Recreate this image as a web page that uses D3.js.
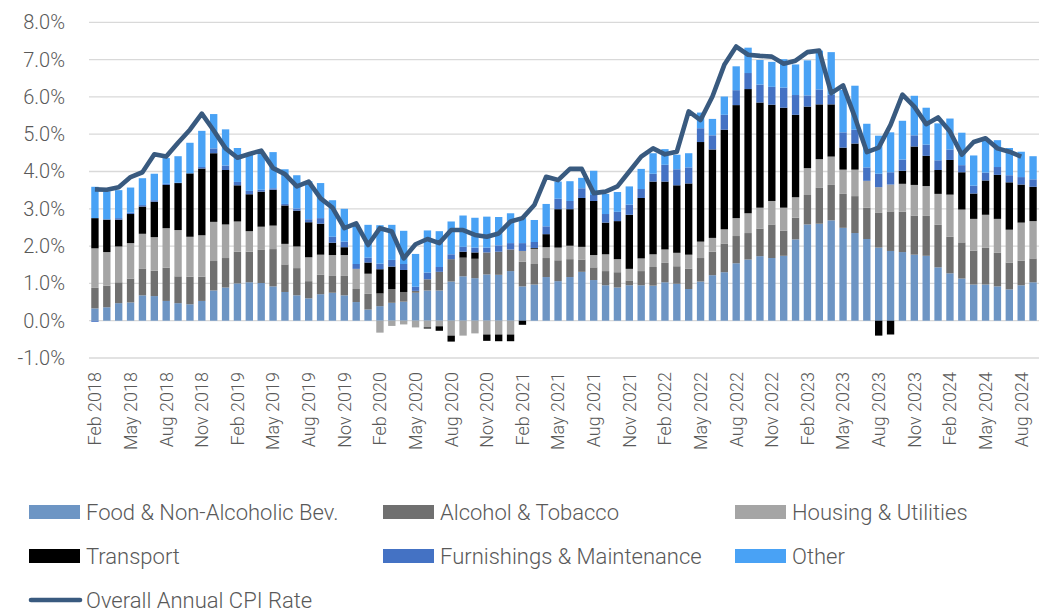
<!DOCTYPE html>
<html>
<head>
<meta charset="utf-8">
<script src="https://cdn.jsdelivr.net/npm/d3@7"></script>
<style>
  body { margin: 0; background: #fff; }
  text { font-family: "Roboto", sans-serif; font-weight: 300; fill: #595959; }
</style>
</head>
<body>
<div class="cpiChart"></div>
<script>
const months = [
  'Feb 2018','Mar 2018','Apr 2018','May 2018','Jun 2018','Jul 2018','Aug 2018','Sep 2018','Oct 2018','Nov 2018','Dec 2018',
  'Jan 2019','Feb 2019','Mar 2019','Apr 2019','May 2019','Jun 2019','Jul 2019','Aug 2019','Sep 2019','Oct 2019','Nov 2019','Dec 2019',
  'Jan 2020','Feb 2020','Mar 2020','Apr 2020','May 2020','Jun 2020','Jul 2020','Aug 2020','Sep 2020','Oct 2020','Nov 2020','Dec 2020',
  'Jan 2021','Feb 2021','Mar 2021','Apr 2021','May 2021','Jun 2021','Jul 2021','Aug 2021','Sep 2021','Oct 2021','Nov 2021','Dec 2021',
  'Jan 2022','Feb 2022','Mar 2022','Apr 2022','May 2022','Jun 2022','Jul 2022','Aug 2022','Sep 2022','Oct 2022','Nov 2022','Dec 2022',
  'Jan 2023','Feb 2023','Mar 2023','Apr 2023','May 2023','Jun 2023','Jul 2023','Aug 2023','Sep 2023','Oct 2023','Nov 2023','Dec 2023',
  'Jan 2024','Feb 2024','Mar 2024','Apr 2024','May 2024','Jun 2024','Jul 2024','Aug 2024','Sep 2024'
];

const food = [
  0.33,0.36,0.47,0.49,0.68,0.66,0.53,0.47,0.44,0.53,
  0.81,0.89,1.00,1.03,1.01,0.92,0.77,0.68,0.60,0.71,
  0.75,0.68,0.50,0.30,0.39,0.48,0.51,0.75,0.81,0.81,
  1.05,1.19,1.14,1.24,1.23,1.33,0.92,0.97,1.17,1.06,
  1.17,1.31,1.09,0.95,0.89,0.95,0.95,0.94,1.03,0.99,
  0.85,1.05,1.22,1.30,1.54,1.64,1.73,1.68,1.74,2.18,
  2.58,2.60,2.69,2.49,2.35,2.19,1.96,1.87,1.84,1.77,
  1.74,1.43,1.27,1.13,0.97,0.97,0.92,0.84,0.95,1.03
];
const alcohol = [
  0.55,0.58,0.56,0.64,0.72,0.68,0.89,0.72,0.74,0.65,
  0.79,0.79,0.85,0.82,0.90,1.00,0.74,0.73,0.46,0.52,
  0.45,0.52,0.35,0.42,0.34,0.37,0.26,0.05,0.30,0.50,
  0.60,0.50,0.52,0.59,0.62,0.58,0.66,0.55,0.51,0.56,
  0.48,0.33,0.34,0.38,0.41,0.13,0.38,0.50,0.52,0.47,
  0.54,0.63,0.63,0.77,0.73,0.71,0.74,0.90,0.67,0.58,
  0.79,0.96,0.95,0.91,0.99,0.84,0.93,1.06,1.08,1.05,
  1.07,1.14,0.98,0.97,0.91,0.99,0.90,0.72,0.66,0.64
];
const housing = [
  1.06,0.90,0.96,0.95,0.93,0.90,1.06,1.24,1.07,1.11,
  1.05,0.90,0.81,0.55,0.61,0.63,0.55,0.58,0.64,0.54,
  0.56,0.56,0.54,0.54,-0.32,-0.14,-0.10,-0.18,-0.18,-0.15,
  -0.40,-0.40,-0.34,-0.37,-0.37,-0.37,0.29,0.41,0.29,0.34,
  0.36,0.34,0.33,0.45,0.35,0.31,0.34,0.34,0.36,0.36,
  0.38,0.44,0.37,0.38,0.48,0.53,0.56,0.63,0.62,0.55,
  0.72,0.77,0.76,0.65,0.71,0.72,0.69,0.72,0.75,0.82,
  0.80,0.83,1.13,0.88,0.85,0.88,0.91,0.88,1.02,1.00
];
const transport = [
  0.81,0.87,0.72,0.78,0.73,0.95,1.16,1.26,1.70,1.79,
  1.84,1.46,0.97,0.99,0.94,0.96,1.03,0.96,0.94,0.83,
  0.33,0.21,0.00,0.30,0.65,0.60,0.59,0.00,-0.03,-0.12,
  -0.16,0.16,0.17,-0.17,-0.18,-0.18,-0.11,0.02,0.35,1.03,
  0.98,1.31,1.45,0.85,1.02,1.45,1.62,1.95,1.82,1.81,
  1.91,2.67,2.37,2.67,3.03,3.33,2.82,2.58,2.68,2.21,
  1.65,1.47,1.40,0.59,0.70,0.00,-0.40,-0.37,0.35,1.03,
  0.81,0.64,0.93,1.00,0.68,0.92,1.18,1.27,1.02,0.92
];
const furnishings = [
  -0.03,0.01,0.04,0.04,0.04,0.04,0.03,0.01,0.00,0.04,
  0.13,0.12,0.09,0.09,0.05,0.04,0.04,0.06,0.08,0.15,
  0.16,0.15,0.13,0.13,0.15,0.18,0.16,0.11,0.18,0.13,
  0.13,0.13,0.13,0.13,0.17,0.17,0.21,0.16,0.21,0.28,
  0.22,0.26,0.16,0.23,0.25,0.27,0.24,0.21,0.45,0.43,
  0.43,0.37,0.38,0.40,0.40,0.43,0.48,0.48,0.54,0.53,
  0.30,0.40,0.26,0.41,0.37,0.36,0.36,0.33,0.30,0.30,
  0.30,0.26,0.28,0.19,0.21,0.21,0.21,0.19,0.20,0.20
];
const other = [
  0.84,0.75,0.75,0.67,0.72,0.71,0.69,0.71,0.82,0.97,
  0.92,0.97,0.91,1.01,1.00,0.97,0.93,0.89,1.02,0.94,
  0.98,0.88,1.05,0.88,1.03,0.94,0.89,0.88,1.13,0.96,
  0.88,0.84,0.80,0.83,0.76,0.80,0.67,0.59,0.60,0.46,
  0.53,0.28,0.65,0.54,0.53,0.49,0.54,0.55,0.42,0.39,
  0.38,0.42,0.44,0.49,0.64,0.68,0.66,0.67,0.76,0.82,
  0.94,1.04,1.14,1.14,1.18,1.17,1.02,1.07,1.04,1.06,
  0.99,0.99,0.83,0.87,0.81,0.89,0.72,0.73,0.68,0.62
];
const cpi = [
  3.52,3.51,3.58,3.85,3.98,4.46,4.40,4.77,5.12,5.55,
  5.10,4.62,4.37,4.47,4.56,4.09,3.93,3.60,3.73,3.28,
  3.03,2.48,2.61,2.03,2.48,2.39,1.67,2.05,2.19,2.08,
  2.43,2.43,2.30,2.25,2.34,2.66,2.75,3.10,3.86,3.77,
  4.07,4.07,3.42,3.46,3.60,4.00,4.40,4.62,4.46,4.53,
  5.61,5.38,6.01,6.86,7.35,7.13,7.10,7.08,6.89,6.97,
  7.20,7.24,6.10,6.31,5.45,4.52,4.64,5.25,6.06,5.74,
  5.27,5.45,5.07,4.45,4.79,4.89,4.62,4.53,4.40,null
];

const seriesNames = ['Food & Non-Alcoholic Bev.', 'Alcohol & Tobacco', 'Housing & Utilities',
                     'Transport', 'Furnishings & Maintenance', 'Other'];
const lineName = 'Overall Annual CPI Rate';
const yTicks = [-1, 0, 1, 2, 3, 4, 5, 6, 7, 8];

const colors = ['#6d95c4', '#707070', '#a5a5a5', '#000000', '#4472c4', '#49a2f5'];
const lineColor = '#395a7f';

const W = 1046, H = 613;
const margin = ({top: 22, right: 7, bottom: 255, left: 89});

const svg = d3.select('.cpiChart')
              .append('svg')
              .attr('width', W)
              .attr('height', H);

// build one row per month for the stack
const table = months.map((m, i) => ({
  month: m,
  s0: food[i], s1: alcohol[i], s2: housing[i],
  s3: transport[i], s4: furnishings[i], s5: other[i]
}));
const keys = ['s0', 's1', 's2', 's3', 's4', 's5'];

const stacked = d3.stack()
                  .keys(keys)
                  .offset(d3.stackOffsetDiverging)(table);

const xScale = d3.scaleBand()
                 .domain(months)
                 .range([margin.left, W - margin.right])
                 .paddingInner(0.38)
                 .paddingOuter(0.19);

const yScale = d3.scaleLinear()
                 .domain([-1, 8])
                 .range([358.0, 22.3]);

// gridlines
svg.append('g')
   .selectAll('line')
   .data(yTicks)
   .enter()
   .append('line')
   .attr('x1', margin.left)
   .attr('x2', W - margin.right)
   .attr('y1', d => yScale(d))
   .attr('y2', d => yScale(d))
   .attr('stroke', '#d9d9d9')
   .attr('stroke-width', 1.3);

// y axis labels
const yAxis = d3.axisLeft(yScale)
                .tickValues(yTicks)
                .tickSize(0)
                .tickPadding(24)
                .tickFormat(d => d.toFixed(1) + '%');
const yG = svg.append('g')
   .attr('transform', `translate(${margin.left},0)`)
   .call(yAxis);
yG.select('.domain').remove();
yG.selectAll('text')
  .style('font-size', '20px')
  .style('font-family', 'Roboto, sans-serif')
  .style('font-weight', 300)
  .attr('fill', '#595959');

// bars
svg.append('g')
   .selectAll('g')
   .data(stacked)
   .enter()
   .append('g')
   .attr('fill', (d, i) => colors[i])
   .selectAll('rect')
   .data(d => d)
   .enter()
   .append('rect')
   .attr('x', d => xScale(d.data.month))
   .attr('width', xScale.bandwidth())
   .attr('y', d => yScale(Math.max(d[0], d[1])))
   .attr('height', d => Math.abs(yScale(d[0]) - yScale(d[1])));

// cpi line
const line = d3.line()
               .defined(d => d != null)
               .x((d, i) => xScale(months[i]) + xScale.bandwidth() / 2)
               .y(d => yScale(d));

svg.append('path')
   .datum(cpi)
   .attr('d', line)
   .attr('fill', 'none')
   .attr('stroke', lineColor)
   .attr('stroke-width', 4.6)
   .attr('stroke-linejoin', 'round');

// x axis labels every third month
const xAxis = d3.axisBottom(xScale)
                .tickValues(months.filter((m, i) => i % 3 === 0))
                .tickSize(0)
                .tickPadding(0);
const xG = svg.append('g')
   .attr('transform', 'translate(0,368)')
   .call(xAxis);
xG.select('.domain').remove();
xG.selectAll('text')
  .style('font-size', '18px')
  .style('font-family', 'Roboto, sans-serif')
  .style('font-weight', 300)
  .attr('fill', '#595959')
  .attr('text-anchor', 'end')
  .attr('dy', '0.35em')
  .attr('transform', 'rotate(-90)')
  .attr('x', -4)
  .attr('y', 0);

// legend
const legendPos = [
  {x: 29, y: 512}, {x: 383, y: 512}, {x: 735, y: 512},
  {x: 29, y: 556}, {x: 383, y: 556}, {x: 735, y: 556}
];
const legend = svg.append('g');
seriesNames.forEach((name, i) => {
  const p = legendPos[i];
  legend.append('rect')
        .attr('x', p.x).attr('y', p.y - 7)
        .attr('width', 51).attr('height', 14)
        .attr('fill', colors[i]);
  legend.append('text')
        .attr('x', p.x + 57).attr('y', p.y)
        .attr('dy', '0.35em')
        .style('font-size', '22px')
        .text(name);
});
legend.append('line')
      .attr('x1', 31).attr('x2', 80)
      .attr('y1', 600).attr('y2', 600)
      .attr('stroke', lineColor)
      .attr('stroke-width', 4.6)
      .attr('stroke-linecap', 'round');
legend.append('text')
      .attr('x', 86).attr('y', 600)
      .attr('dy', '0.35em')
      .style('font-size', '22px')
      .text(lineName);
</script>
</body>
</html>
